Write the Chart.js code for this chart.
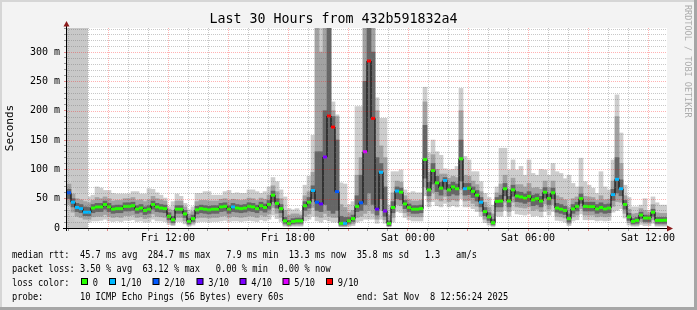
<!DOCTYPE html>
<html>
<head>
<meta charset="utf-8">
<script src="https://cdn.jsdelivr.net/npm/chart.js@4.4.1/dist/chart.umd.min.js"></script>
<style>
  html, body { margin: 0; padding: 0; background: #f3f3f3; }
  #wrap { width: 697px; height: 310px; }
</style>
</head>
<body>
<div id="wrap"><canvas id="smoke" width="697" height="310"></canvas></div>
<script>
// 150 samples of 12 minutes, first one starting Fri 06:57
const startHour = 6.95;
const stepHours = 0.2;

// median rtt (ms)
const median = [60,44,35,33,27,27,34,36,36,40, 36,32,33,33,37,37,38,32,34,30,
  32,40,36,34,33,20,14,32,32,24, 11,16,31,33,32,31,32,32,36,37,
  32,36,34,33,34,37,36,33,38,35, 40,56,42,33,12,8,11,12,12,38,
  44,64,44,41,121,191,172,62,8,8, 12,16,37,43,130,284.7,187,32,95,29,
  7.9,35,63,61,41,35,32,32,33,117, 65,98,77,68,81,65,70,67,118,67,
  68,62.5,56,44,28,19,9,45.5,46,67, 46,65,54.5,53,51,54,48,50,46,61,
  50,60,34,32,30,16,32.5,37,50,37, 36.5,36.5,32.5,35,32.5,34,57,83,67,40,
  19,11,13,22,17,17,27,13,13,13.3];

// lost pings out of 10 for each sample
const loss = [2,1,1,1,1,1,0,0,0,0, 0,0,0,0,0,0,0,0,0,0,
  0,0,0,0,0,0,0,0,0,0, 0,0,0,0,0,0,0,0,0,0,
  0,1,0,0,0,0,0,0,0,0, 0,0,0,0,0,0,0,0,0,0,
  0,1,2,3,4,9,9,2,0,1, 0,0,0,2,5,9,9,3,1,4,
  0,0,1,0,0,0,0,0,0,0, 0,0,0,0,1,0,0,0,0,1,
  0,0,0,1,0,0,0,0,0,0, 0,0,0,0,0,0,0,0,0,0,
  0,0,0,0,0,0,0,0,0,0, 0,0,0,0,0,0,1,1,1,0,
  0,0,0,0,0,0,0,0,0,0];

// smoke: slowest / fastest ping and the inner ping pairs
const smokeHi = [85,70,62,60,58,53,56,70,68,64, 64,59,58,58,58,58,62,62,58,58,
  67,66,60,56,51,36,45,58,54,42, 31,36,59,59,62,62,56,56,56,62,
  64,59,60,59,59,65,65,62,59,62, 70,86,79,65,53,33,31,33,28,73,
  88,158,345,345,345,345,215,193,77,75, 40,45,207,207,345,345,345,222,187,187,
  39,96,96,99,65,60,62,60,60,240, 128,150,130,124,101,99,100,105,238,122,
  116,96,96,79,59,52,39,70,136,136, 99,116,99,105,90,116,93,90,100,99,
  90,110,96,93,84,90,76,70,119,79, 73,68,59,96,70,65,116,227,162,73,
  52,36,36,39,50,30,53,43,39,39];
const smokeHi2 = [75,58,50,48,45,43,47,52,50,53, 50,46,47,47,50,50,52,47,48,45,
  48,54,50,48,46,32,30,46,46,36, 24,28,45,47,47,46,46,46,49,50,
  47,49,48,47,48,51,50,47,51,49, 56,72,62,50,30,22,24,24,22,55,
  62,95,345,300,345,345,200,190,40,35, 26,30,90,120,345,345,345,200,140,120,
  22,60,80,78,55,48,46,46,47,215, 95,125,100,92,92,85,88,86,200,90,
  88,80,74,62,44,35,24,60,75,90, 66,85,74,74,70,76,68,69,66,80,
  69,80,55,52,48,35,50,53,70,54, 53,52,47,55,48,49,80,190,110,55,
  32,24,25,33,30,26,40,26,25,25];
const smokeHi3 = [66,50,42,40,36,35,40,42,42,46, 42,38,39,39,43,43,44,38,40,36,
  38,46,42,40,39,26,20,38,38,30, 17,22,37,39,38,37,38,38,42,43,
  38,42,40,39,40,43,42,39,44,41, 47,63,50,40,18,13,16,17,17,45,
  52,72,130,130,200,345,190,150,20,18, 18,22,55,90,250,345,300,120,110,70,
  12,45,70,68,47,41,38,38,39,175, 78,110,88,78,86,74,78,75,150,76,
  76,70,64,52,35,26,15,52,56,76, 54,73,62,61,58,62,56,58,54,69,
  58,68,42,40,37,24,40,44,58,44, 44,44,40,43,40,41,66,120,82,47,
  25,16,18,27,22,21,32,18,18,18];
const smokeLo3 = [50,36,28,26,21,21,26,28,28,32, 28,25,26,26,29,29,30,25,27,23,
  25,32,28,27,26,14,9,25,25,18, 7,11,24,26,25,24,25,25,28,29,
  25,28,27,26,27,29,28,26,30,27, 32,45,34,26,8,5,7,8,8,30,
  34,50,30,28,40,30,25,30,5,5, 8,11,28,30,40,60,40,22,50,20,
  4,26,50,48,33,28,25,25,26,85, 55,75,62,56,66,55,58,56,80,56,
  57,52,46,36,21,13,6,36,36,55, 36,54,45,44,42,45,38,40,36,51,
  40,50,27,25,23,10,25,29,42,29, 29,29,25,27,25,26,47,60,55,32,
  13,7,8,16,11,11,20,8,8,8];
const smokeLo2 = [40,27,20,18,15,15,19,20,20,23, 20,18,19,18,21,21,22,18,19,16,
  18,24,20,19,18,10,6,18,18,12, 5,8,17,18,18,17,18,18,20,21,
  18,20,19,18,19,21,20,18,22,20, 24,35,25,18,5,4,5,5,5,20,
  24,35,20,18,25,20,18,18,3,3, 5,7,18,20,25,30,25,15,30,14,
  3,18,40,38,26,21,19,19,19,70, 45,60,50,46,54,45,48,46,65,46,
  47,42,37,28,15,9,4,28,28,44, 28,44,36,35,34,36,30,32,28,41,
  32,40,20,19,17,7,19,22,33,22, 22,22,19,20,19,20,37,45,44,25,
  9,5,5,11,8,8,14,5,5,5];
const smokeLo = [30,18,12,11,10,10,12,12,13,15, 12,11,12,11,13,13,14,11,12,10,
  11,15,12,12,11,6,4,11,11,7, 3,5,10,11,11,10,11,11,12,13,
  11,12,12,11,12,13,12,11,14,12, 15,22,16,11,3,2,3,3,3,12,
  15,20,12,10,14,12,10,10,2,2, 3,4,10,12,15,15,15,8,15,8,
  2,10,28,26,18,14,12,12,12,55, 36,45,38,36,42,36,38,36,50,36,
  36,33,28,20,9,5,2,20,20,30, 20,30,24,23,22,24,20,21,19,28,
  22,28,13,12,10,4,12,14,24,14, 14,14,12,13,12,13,27,30,33,17,
  5,3,3,6,4,4,8,3,3,3];

// hours with no data at the left edge
const unknownSpan = [6.95, 8.0];

const xTickHours = [12, 18, 24, 30, 36];
const xTickLabels = ['Fri 12:00', 'Fri 18:00', 'Sat 00:00', 'Sat 06:00', 'Sat 12:00'];
const yTickValues = [0, 50, 100, 150, 200, 250, 300];
const yTickLabels = ['0', '50 m', '100 m', '150 m', '200 m', '250 m', '300 m'];

const lossLevels = [0, 1, 2, 3, 4, 5, 9];
const lossLabels = ['0', '1/10', '2/10', '3/10', '4/10', '5/10', '9/10'];
const lossColors = ['#26ff00', '#00b8ff', '#0059ff', '#5e00ff', '#7e00ff', '#dd00ff', '#ff0000'];

const legendRtt = 'median rtt:  45.7 ms avg  284.7 ms max   7.9 ms min  13.3 ms now  35.8 ms sd   1.3   am/s';
const legendLoss = 'packet loss: 3.50 % avg  63.12 % max   0.00 % min  0.00 % now';
const legendColor = 'loss color:';
const legendProbe = 'probe:       10 ICMP Echo Pings (56 Bytes) every 60s              end: Sat Nov  8 12:56:24 2025';

const mono = 'DejaVu Sans Mono';

// x position (hours since Fri 00:00) for each sample centre
const times = median.map((_, i) => startHour + stepHours * i + stepHours / 2);

function band(lo, hi) {
    return times.map((t, i) => ({ x: t, y: [lo[i], hi[i]] }));
}
function lossColor(n) {
    return lossColors[lossLevels.indexOf(n)];
}

const rrdFrame = {
    id: 'rrdFrame',
    beforeDraw(chart) {
        const ctx = chart.ctx;
        const a = chart.chartArea;
        const x = chart.scales.x;
        ctx.save();
        ctx.fillStyle = '#f3f3f3';
        ctx.fillRect(0, 0, chart.width, chart.height);
        // shaded frame
        ctx.fillStyle = '#d6d6d6';
        ctx.fillRect(0, 0, chart.width, 2);
        ctx.fillRect(0, 0, 2, chart.height);
        ctx.fillStyle = '#a6a6a6';
        ctx.fillRect(chart.width - 3, 0, 3, chart.height);
        ctx.fillRect(0, chart.height - 3, chart.width, 3);
        // plot background
        ctx.fillStyle = '#ffffff';
        ctx.fillRect(a.left, a.top, a.right - a.left, a.bottom - a.top);
        // unknown data area
        const u0 = x.getPixelForValue(unknownSpan[0]);
        const u1 = x.getPixelForValue(unknownSpan[1]);
        ctx.fillStyle = '#c8c8c8';
        ctx.fillRect(u0, a.top, u1 - u0, a.bottom - a.top);
        ctx.restore();
    },
    afterDatasetsDraw(chart) {
        const ctx = chart.ctx;
        const a = chart.chartArea;
        const x = chart.scales.x;
        const y = chart.scales.y;
        ctx.save();
        ctx.lineWidth = 1;
        ctx.setLineDash([1, 1]);
        y.ticks.forEach(t => {
            if (t.value === 0) return;
            const py = Math.round(y.getPixelForValue(t.value)) + 0.5;
            ctx.strokeStyle = t.value % 50 === 0 ? 'rgba(255,0,0,0.3)' : 'rgba(110,110,110,0.38)';
            ctx.beginPath();
            ctx.moveTo(a.left, py);
            ctx.lineTo(a.right, py);
            ctx.stroke();
        });
        x.ticks.forEach(t => {
            const px = Math.round(x.getPixelForValue(t.value)) + 0.5;
            ctx.strokeStyle = t.value % 3 === 0 ? 'rgba(255,0,0,0.3)' : 'rgba(110,110,110,0.38)';
            ctx.beginPath();
            ctx.moveTo(px, a.top);
            ctx.lineTo(px, a.bottom);
            ctx.stroke();
        });
        ctx.setLineDash([]);
        // axes
        ctx.strokeStyle = '#000';
        ctx.beginPath();
        ctx.moveTo(a.left - 0.5, a.bottom + 3);
        ctx.lineTo(a.left - 0.5, a.top - 3);
        ctx.moveTo(a.left - 4, a.bottom + 0.5);
        ctx.lineTo(a.right + 2, a.bottom + 0.5);
        ctx.stroke();
        ctx.fillStyle = '#8b1a1a';
        ctx.beginPath();
        ctx.moveTo(a.left - 0.5, a.top - 7);
        ctx.lineTo(a.left - 3.5, a.top - 1.5);
        ctx.lineTo(a.left + 2.5, a.top - 1.5);
        ctx.closePath();
        ctx.fill();
        ctx.beginPath();
        ctx.moveTo(a.right + 6, a.bottom + 0.5);
        ctx.lineTo(a.right, a.bottom - 2.5);
        ctx.lineTo(a.right, a.bottom + 3.5);
        ctx.closePath();
        ctx.fill();
        ctx.restore();
    },
    afterDraw(chart) {
        const ctx = chart.ctx;
        ctx.save();
        // watermark
        ctx.fillStyle = '#acacac';
        ctx.font = '8.5px "' + mono + '"';
        ctx.textBaseline = 'middle';
        ctx.translate(687, 5);
        ctx.rotate(Math.PI / 2);
        ctx.fillText('RRDTOOL / TOBI OETIKER', 0, 0);
        ctx.restore();

        const text = (s, px, py) => {
            ctx.save();
            ctx.translate(px, py);
            ctx.scale(0.835, 1);
            ctx.fillText(s, 0, 0);
            ctx.restore();
        };
        ctx.save();
        ctx.fillStyle = '#000';
        ctx.font = '10.4px "' + mono + '"';
        ctx.textBaseline = 'alphabetic';
        text(legendRtt, 12, 258);
        text(legendLoss, 12, 272);
        text(legendColor, 12, 286);
        text(legendProbe, 12, 300);
        const boxX = [81, 109, 152.5, 196.5, 239.5, 282.5, 326];
        lossLabels.forEach((lab, i) => {
            ctx.fillStyle = lossColors[i];
            ctx.fillRect(boxX[i] + 0.5, 278.5, 6, 6);
            ctx.strokeStyle = '#000';
            ctx.lineWidth = 1;
            ctx.strokeRect(boxX[i] + 0.5, 278.5, 6, 6);
            ctx.fillStyle = '#000';
            text(lab, boxX[i] + 11.7, 286);
        });
        ctx.restore();
    }
};

const barBase = { type: 'bar', grouped: false, borderWidth: 0, barPercentage: 1, categoryPercentage: 1 };

new Chart(document.getElementById('smoke'), {
    type: 'bar',
    data: {
        datasets: [
            { ...barBase, label: 'smoke outer', data: band(smokeLo, smokeHi), backgroundColor: '#cdcdcd', order: 5 },
            { ...barBase, label: 'smoke mid', data: band(smokeLo2, smokeHi2), backgroundColor: '#a2a2a2', order: 4 },
            { ...barBase, label: 'smoke core', data: band(smokeLo3, smokeHi3), backgroundColor: '#666666', order: 3 },
            {
                type: 'line', label: 'median rtt',
                data: times.map((t, i) => ({ x: t, y: median[i] })),
                stepped: 'middle', borderColor: '#000', borderWidth: 1,
                pointRadius: 0, order: 2
            },
            {
                type: 'line', label: 'loss color', showLine: false,
                data: times.map((t, i) => ({ x: t, y: median[i] })),
                pointStyle: 'line', pointRadius: 2, pointBorderWidth: 3,
                pointBorderColor: loss.map(lossColor),
                pointBackgroundColor: loss.map(lossColor),
                order: 1
            }
        ]
    },
    options: {
        responsive: false,
        animation: false,
        devicePixelRatio: 1,
        events: [],
        layout: { padding: { left: 0, top: 0, right: 30, bottom: 0 } },
        plugins: {
            legend: { display: false },
            tooltip: { enabled: false },
            title: {
                display: true,
                text: 'Last 30 Hours from 432b591832a4',
                color: '#000',
                font: { family: mono, size: 13.3, weight: 'normal', lineHeight: '16px' },
                padding: { top: 12, bottom: 0 }
            }
        },
        scales: {
            x: {
                type: 'linear',
                min: startHour,
                max: startHour + 30,
                offset: false,
                grid: {
                    display: true, drawOnChartArea: false, drawTicks: true, tickLength: 3, offset: false,
                    tickColor: c => (c.tick && c.tick.value % 3 === 0) ? '#d88' : '#999'
                },
                border: { display: false },
                ticks: {
                    autoSkip: false, maxRotation: 0, padding: 1, color: '#000',
                    font: { family: mono, size: 10 },
                    callback: v => {
                        const i = xTickHours.indexOf(v);
                        return i < 0 ? '' : xTickLabels[i];
                    }
                },
                afterBuildTicks: s => {
                    const t = [];
                    for (let h = Math.ceil(s.min); h <= s.max; h++) t.push({ value: h });
                    s.ticks = t;
                },
                afterFit: s => { s.height = 82; }
            },
            y: {
                type: 'linear',
                min: 0,
                max: 341,
                grid: {
                    display: true, drawOnChartArea: false, drawTicks: true, tickLength: 3,
                    tickColor: c => (c.tick && c.tick.value % 50 === 0) ? '#d88' : '#999'
                },
                border: { display: false },
                title: {
                    display: true, text: 'Seconds', color: '#000',
                    font: { family: mono, size: 11 }
                },
                ticks: {
                    autoSkip: false, padding: 4, color: '#000',
                    font: { family: mono, size: 10 },
                    callback: v => {
                        const i = yTickValues.indexOf(v);
                        return i < 0 ? '' : yTickLabels[i];
                    }
                },
                afterBuildTicks: s => {
                    const t = [];
                    for (let v = 0; v <= 340; v += 10) t.push({ value: v });
                    s.ticks = t;
                },
                afterFit: s => { s.width = 67; }
            }
        }
    },
    plugins: [rrdFrame]
});
</script>
</body>
</html>
